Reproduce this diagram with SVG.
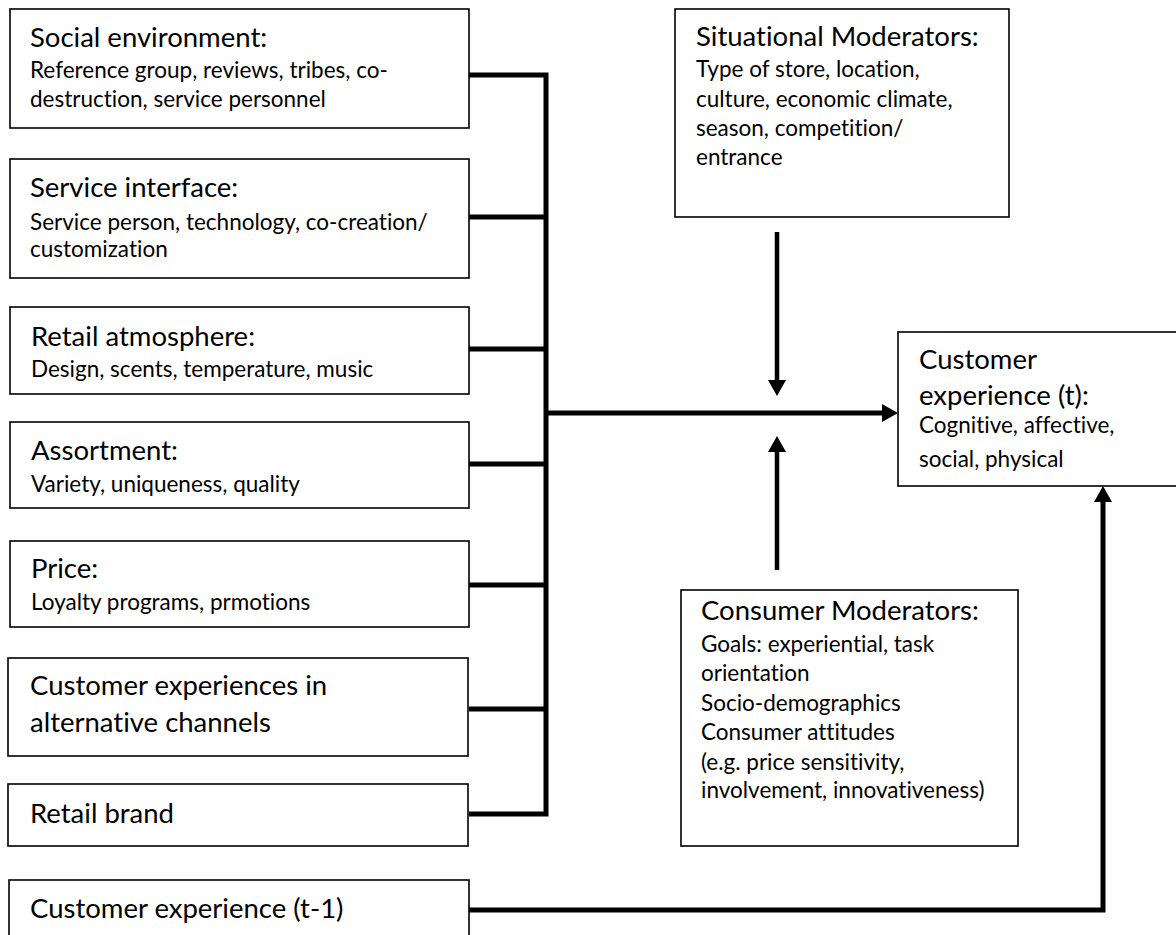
<svg xmlns="http://www.w3.org/2000/svg" width="1176" height="935" viewBox="0 0 1176 935">
<style>
.box{fill:#fff;stroke:#000;stroke-width:1.6}
.t{font-family:Lato,"Liberation Sans",sans-serif;font-size:27.5px;fill:#000;font-variant-ligatures:none}
.s{font-family:Lato,"Liberation Sans",sans-serif;font-size:22.5px;fill:#000;font-variant-ligatures:none}
.c{fill:none;stroke:#000;stroke-width:5}
.a{fill:none;stroke:#000;stroke-width:4.5}
</style>
<defs>
<marker id="ah" markerUnits="userSpaceOnUse" markerWidth="16" markerHeight="18" refX="0" refY="9" orient="auto" viewBox="0 0 16 18">
<path d="M0,0 L16,9 L0,18 Z" fill="#000"/>
</marker>
</defs>
<rect width="1176" height="935" fill="#fff"/>
<g id="connectors">
<path class="c" d="M469,75 H546 V814 H469"/>
<path class="c" d="M469,217 H546"/>
<path class="c" d="M469,349 H546"/>
<path class="c" d="M469,464 H546"/>
<path class="c" d="M467,585 H546"/>
<path class="c" d="M469,709 H546"/>
<path class="c" d="M546,413 H882" marker-end="url(#ah)"/>
<path class="a" d="M777,232 V380" marker-end="url(#ah)"/>
<path class="a" d="M777,570 V452" marker-end="url(#ah)"/>
<path class="c" d="M469,910 H1103 V502" marker-end="url(#ah)"/>
</g>
<g id="social">
<rect class="box" x="10" y="9" width="459" height="119"/>
<text class="t" x="30" y="47">Social environment:</text>
<text class="s" x="30" y="78">Reference group, reviews, tribes, co-</text>
<text class="s" x="30" y="107">destruction, service personnel</text>
</g>
<g id="service">
<rect class="box" x="10" y="159" width="459" height="119"/>
<text class="t" x="30" y="197">Service interface:</text>
<text class="s" x="30" y="230">Service person, technology, co-creation/</text>
<text class="s" x="30" y="257">customization</text>
</g>
<g id="atmosphere">
<rect class="box" x="10" y="307" width="459" height="87"/>
<text class="t" x="31" y="346">Retail atmosphere:</text>
<text class="s" x="31" y="377">Design, scents, temperature, music</text>
</g>
<g id="assortment">
<rect class="box" x="10" y="422" width="459" height="86"/>
<text class="t" x="31" y="460">Assortment:</text>
<text class="s" x="31" y="492">Variety, uniqueness, quality</text>
</g>
<g id="price">
<rect class="box" x="10" y="541" width="459" height="86"/>
<text class="t" x="31" y="578">Price:</text>
<text class="s" x="31" y="610">Loyalty programs, prmotions</text>
</g>
<g id="alternative">
<rect class="box" x="8" y="658" width="460" height="98"/>
<text class="t" x="30" y="695">Customer experiences in</text>
<text class="t" x="30" y="732">alternative channels</text>
</g>
<g id="brand">
<rect class="box" x="8" y="784" width="460" height="62"/>
<text class="t" x="30" y="823">Retail brand</text>
</g>
<g id="previous">
<rect class="box" x="9" y="880" width="460" height="70"/>
<text class="t" x="30" y="918">Customer experience (t-1)</text>
</g>
<g id="situational">
<rect class="box" x="675" y="9" width="334" height="208"/>
<text class="t" x="696" y="46">Situational Moderators:</text>
<text class="s" x="696" y="77">Type of store, location,</text>
<text class="s" x="696" y="107">culture, economic climate,</text>
<text class="s" x="696" y="136">season, competition/</text>
<text class="s" x="696" y="165">entrance</text>
</g>
<g id="experience">
<rect class="box" x="898" y="332" width="300" height="154"/>
<text class="t" x="919" y="369">Customer</text>
<text class="t" x="919" y="405">experience (t):</text>
<text class="s" x="919" y="433">Cognitive, affective,</text>
<text class="s" x="919" y="467">social, physical</text>
</g>
<g id="consumer">
<rect class="box" x="681" y="590" width="337" height="256"/>
<text class="t" x="701" y="620">Consumer Moderators:</text>
<text class="s" x="701" y="652">Goals: experiential, task</text>
<text class="s" x="701" y="681">orientation</text>
<text class="s" x="701" y="711">Socio-demographics</text>
<text class="s" x="701" y="740">Consumer attitudes</text>
<text class="s" x="701" y="770">(e.g. price sensitivity,</text>
<text class="s" x="701" y="798">involvement, innovativeness)</text>
</g>
</svg>
